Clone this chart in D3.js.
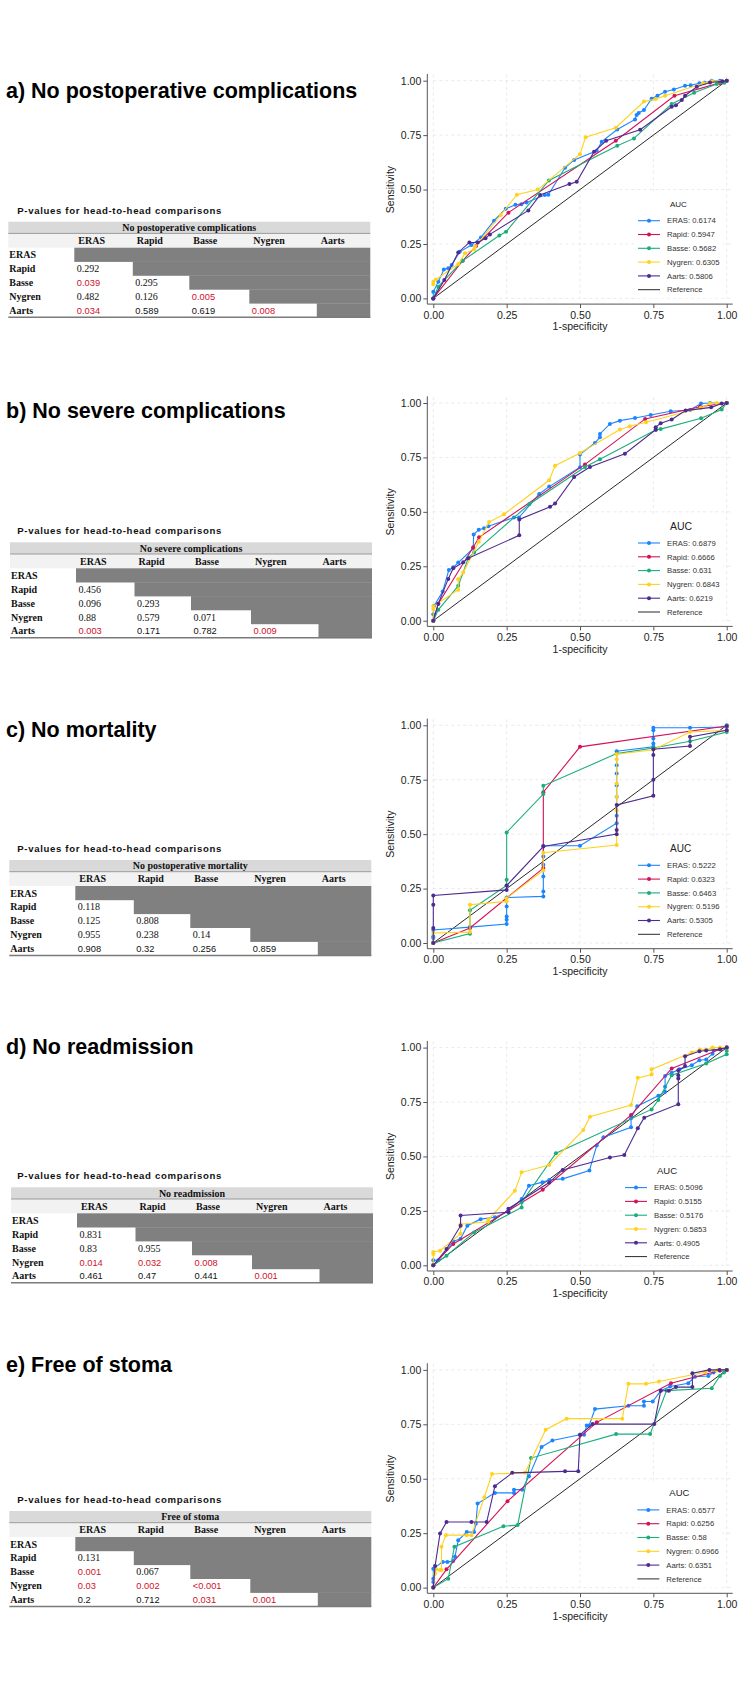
<!DOCTYPE html>
<html>
<head>
<meta charset="utf-8">
<script src="https://cdn.jsdelivr.net/npm/d3@7"></script>
<style>
  body { margin: 0; background: #fff; }
  svg { display: block; }
</style>
</head>
<body>
<svg id="fig" width="750" height="1707"></svg>
<script>
// models, in legend order
const models = ['ERAS', 'Rapid', 'Basse', 'Nygren', 'Aarts']
const modelColors = ['#1a85ff', '#d41159', '#1aae7c', '#ffd21f', '#4f2a8f']

const panelTitles = ['a) No postoperative complications', 'b) No severe complications', 'c) No mortality', 'd) No readmission', 'e) Free of stoma']
const tableTitles = ['No postoperative complications', 'No severe complications', 'No postoperative mortality', 'No readmission', 'Free of stoma']

const axisTicks = [0, 0.25, 0.5, 0.75, 1]

// AUC per model (same order as models)
const aucA = ['0.6174', '0.5947', '0.5682', '0.6305', '0.5806']
const aucB = ['0.6879', '0.6666', '0.631', '0.6843', '0.6219']
const aucC = ['0.5222', '0.6323', '0.6463', '0.5196', '0.5305']
const aucD = ['0.5096', '0.5155', '0.5176', '0.5853', '0.4905']
const aucE = ['0.6577', '0.6256', '0.58', '0.6966', '0.6351']

// lower triangle of p-values, row = Rapid..Aarts, col = ERAS..Nygren
const pvalA = [['0.292'], ['0.039', '0.295'], ['0.482', '0.126', '0.005'], ['0.034', '0.589', '0.619', '0.008']]
const pvalB = [['0.456'], ['0.096', '0.293'], ['0.88', '0.579', '0.071'], ['0.003', '0.171', '0.782', '0.009']]
const pvalC = [['0.118'], ['0.125', '0.808'], ['0.955', '0.238', '0.14'], ['0.908', '0.32', '0.256', '0.859']]
const pvalD = [['0.831'], ['0.83', '0.955'], ['0.014', '0.032', '0.008'], ['0.461', '0.47', '0.441', '0.001']]
const pvalE = [['0.131'], ['0.001', '0.067'], ['0.03', '0.002', '<0.001'], ['0.2', '0.712', '0.031', '0.001']]

// ROC points [1-specificity, sensitivity]
const rocA = {
    ERAS: [[0,0],[0,0.03],[0.017,0.077],[0.036,0.133],[0.051,0.138],[0.0625,0.153],[0.09,0.214],[0.13,0.245],[0.1625,0.28],[0.207,0.357],[0.247,0.412],[0.28,0.43],[0.30,0.433],[0.318,0.441],[0.38,0.475],[0.392,0.476],[0.449,0.60],[0.48,0.636],[0.557,0.678],[0.574,0.72],[0.627,0.776],[0.6875,0.822],[0.693,0.842],[0.70,0.852],[0.718,0.865],[0.744,0.917],[0.764,0.931],[0.79,0.949],[0.82,0.96],[0.858,0.977],[0.877,0.979],[0.907,0.988],[0.924,0.991],[0.949,1],[0.977,1],[1,1]],
    Rapid: [[0,0],[0.1,0.173],[0.145,0.24],[0.256,0.394],[0.622,0.724],[0.822,0.931],[0.977,0.99],[1,1]],
    Basse: [[0,0],[0.017,0.054],[0.1,0.173],[0.225,0.289],[0.248,0.306],[0.394,0.542],[0.627,0.701],[0.684,0.735],[0.8125,0.893],[0.889,0.945],[0.966,0.985],[0.992,0.991],[1,1]],
    Nygren: [[0,0.065],[0,0.077],[0.009,0.087],[0.085,0.158],[0.108,0.207],[0.139,0.225],[0.142,0.237],[0.23,0.383],[0.285,0.476],[0.356,0.5],[0.5,0.662],[0.519,0.74],[0.622,0.784],[0.718,0.904],[0.758,0.916],[0.79,0.931],[0.92,0.988],[0.95,0.998],[1,1]],
    Aarts: [[0,0],[0.0375,0.084],[0.085,0.211],[0.123,0.257],[0.151,0.257],[0.178,0.276],[0.193,0.294],[0.324,0.404],[0.364,0.475],[0.464,0.525],[0.489,0.536],[0.548,0.674],[0.589,0.724],[0.705,0.775],[0.8125,0.88],[0.827,0.887],[0.847,0.911],[0.858,0.931],[0.898,0.972],[0.943,0.992],[0.985,0.997],[1,1]]
}
const rocB = {
    ERAS: [[0,0],[0,0.03],[0.003,0.069],[0.032,0.134],[0.053,0.233],[0.068,0.245],[0.085,0.267],[0.136,0.332],[0.1375,0.396],[0.155,0.418],[0.173,0.425],[0.1875,0.434],[0.275,0.474],[0.292,0.474],[0.361,0.582],[0.395,0.616],[0.5,0.705],[0.5,0.764],[0.551,0.816],[0.568,0.843],[0.568,0.858],[0.602,0.904],[0.636,0.919],[0.6875,0.931],[0.741,0.945],[0.809,0.962],[0.875,0.968],[0.9125,0.998],[0.943,1],[1,1]],
    Rapid: [[0,0],[0.017,0.078],[0.136,0.337],[0.156,0.383],[0.517,0.718],[0.722,0.927],[0.909,0.983],[1,1]],
    Basse: [[0,0],[0.017,0.05],[0.085,0.16],[0.12,0.29],[0.139,0.313],[0.327,0.535],[0.517,0.706],[0.568,0.742],[0.759,0.877],[0.775,0.88],[0.9125,0.93],[0.983,0.97],[1,1]],
    Nygren: [[0,0],[0,0.054],[0,0.066],[0.085,0.142],[0.085,0.19],[0.102,0.221],[0.155,0.363],[0.19,0.453],[0.241,0.489],[0.395,0.645],[0.415,0.712],[0.5,0.77],[0.636,0.878],[0.67,0.893],[0.725,0.912],[0.911,0.977],[0.943,0.998],[0.966,1],[1,1]],
    Aarts: [[0,0],[0.017,0.078],[0.051,0.192],[0.068,0.241],[0.102,0.268],[0.119,0.287],[0.293,0.392],[0.293,0.465],[0.398,0.523],[0.415,0.538],[0.48,0.66],[0.534,0.706],[0.653,0.767],[0.758,0.877],[0.758,0.889],[0.775,0.907],[0.8125,0.924],[0.86,0.965],[0.947,0.98],[0.983,0.998],[1,1]]
}
const rocC = {
    ERAS: [[0,0],[0,0.023],[0,0.03],[0,0.06],[0.125,0.073],[0.25,0.087],[0.25,0.107],[0.25,0.122],[0.25,0.168],[0.25,0.209],[0.375,0.214],[0.375,0.237],[0.375,0.305],[0.375,0.359],[0.375,0.397],[0.375,0.447],[0.5,0.447],[0.625,0.55],[0.625,0.585],[0.625,0.672],[0.625,0.725],[0.625,0.779],[0.625,0.817],[0.625,0.881],[0.75,0.901],[0.75,0.916],[0.75,0.939],[0.75,0.977],[0.75,0.989],[0.875,0.989],[1,0.992],[1,1]],
    Rapid: [[0,0],[0.125,0.069],[0.375,0.344],[0.375,0.693],[0.5,0.901],[1,0.997]],
    Basse: [[0,0],[0.125,0.043],[0.125,0.15],[0.25,0.264],[0.25,0.29],[0.25,0.508],[0.375,0.684],[0.375,0.722],[0.625,0.87],[0.75,0.896],[0.875,0.927],[1,0.969],[1,0.997]],
    Nygren: [[0,0],[0,0.046],[0.125,0.05],[0.125,0.176],[0.25,0.191],[0.25,0.206],[0.375,0.333],[0.375,0.415],[0.625,0.45],[0.625,0.61],[0.625,0.672],[0.625,0.733],[0.625,0.844],[0.625,0.867],[0.75,0.888],[0.875,0.969],[1,0.977],[1,0.997]],
    Aarts: [[0,0],[0,0.069],[0,0.176],[0,0.218],[0.25,0.244],[0.25,0.264],[0.375,0.443],[0.625,0.5],[0.625,0.519],[0.625,0.634],[0.75,0.676],[0.75,0.75],[0.75,0.863],[0.75,0.89],[0.875,0.905],[0.875,0.947],[1,0.977],[1,0.997]]
}
const rocD = {
    ERAS: [[0,0],[0,0.023],[0.017,0.023],[0.068,0.11],[0.093,0.122],[0.116,0.182],[0.161,0.212],[0.21,0.221],[0.256,0.247],[0.301,0.304],[0.326,0.365],[0.372,0.382],[0.395,0.392],[0.441,0.397],[0.532,0.435],[0.557,0.55],[0.58,0.588],[0.674,0.634],[0.674,0.675],[0.695,0.731],[0.767,0.779],[0.79,0.797],[0.79,0.82],[0.79,0.87],[0.8125,0.885],[0.839,0.9],[0.881,0.919],[0.907,0.942],[0.93,0.945],[0.952,0.972],[0.955,0.988],[0.977,0.995],[1,1]],
    Rapid: [[0,0],[0.068,0.098],[0.373,0.347],[0.674,0.69],[0.8125,0.904],[0.977,0.992],[1,1]],
    Basse: [[0,0],[0.045,0.044],[0.139,0.151],[0.301,0.266],[0.301,0.289],[0.418,0.515],[0.744,0.716],[0.767,0.759],[0.8125,0.873],[0.93,0.927],[1,0.969],[1,0.985],[1,1]],
    Nygren: [[0,0],[0,0.052],[0,0.061],[0.023,0.067],[0.093,0.145],[0.093,0.189],[0.1875,0.2],[0.1875,0.209],[0.278,0.342],[0.301,0.427],[0.395,0.461],[0.511,0.621],[0.534,0.682],[0.674,0.736],[0.697,0.861],[0.744,0.876],[0.744,0.9],[0.881,0.977],[0.909,0.991],[0.93,0.991],[0.952,1],[0.977,1],[1,1]],
    Aarts: [[0,0],[0.045,0.075],[0.093,0.182],[0.093,0.229],[0.256,0.244],[0.256,0.26],[0.395,0.38],[0.441,0.438],[0.602,0.495],[0.651,0.507],[0.697,0.629],[0.719,0.678],[0.835,0.74],[0.835,0.858],[0.835,0.873],[0.835,0.896],[0.858,0.915],[0.858,0.96],[0.907,0.983],[0.93,0.987],[0.977,0.992],[1,1]]
}
const rocE = {
    ERAS: [[0,0],[0,0.026],[0,0.041],[0,0.087],[0.032,0.118],[0.048,0.118],[0.068,0.122],[0.074,0.142],[0.085,0.217],[0.114,0.255],[0.139,0.255],[0.145,0.293],[0.151,0.386],[0.21,0.435],[0.275,0.435],[0.275,0.45],[0.303,0.45],[0.326,0.511],[0.369,0.646],[0.406,0.676],[0.5,0.702],[0.514,0.702],[0.523,0.745],[0.531,0.745],[0.551,0.82],[0.665,0.835],[0.718,0.835],[0.718,0.855],[0.748,0.855],[0.775,0.904],[0.807,0.924],[0.869,0.939],[0.892,0.969],[0.9375,0.972],[0.955,0.988],[0.977,0.997],[1,1]],
    Rapid: [[0,0],[0.045,0.084],[0.253,0.397],[0.557,0.759],[0.81,0.939],[0.977,0.997],[1,1]],
    Basse: [[0,0],[0.051,0.041],[0.072,0.188],[0.239,0.282],[0.2875,0.287],[0.333,0.595],[0.623,0.705],[0.739,0.705],[0.795,0.905],[0.949,0.916],[0.977,0.972],[0.991,0.988],[1,1]],
    Nygren: [[0,0],[0.006,0.064],[0.011,0.084],[0.023,0.081],[0.028,0.081],[0.028,0.188],[0.043,0.241],[0.114,0.241],[0.13,0.241],[0.174,0.415],[0.2,0.522],[0.3125,0.527],[0.383,0.725],[0.4545,0.776],[0.644,0.776],[0.665,0.936],[0.725,0.936],[0.769,0.947],[0.926,0.989],[0.966,0.997],[1,1]],
    Aarts: [[0,0],[0.006,0.099],[0.023,0.249],[0.045,0.301],[0.13,0.301],[0.182,0.301],[0.21,0.466],[0.269,0.527],[0.449,0.534],[0.494,0.534],[0.5,0.702],[0.543,0.751],[0.753,0.751],[0.775,0.904],[0.803,0.904],[0.827,0.921],[0.883,0.921],[0.883,0.985],[0.941,1],[0.975,1],[1,1]]
}

// ---------- layout (not data) ----------
const titleBase = [98.4, 417.7, 736.7, 1054.3, 1372.3]
const tableTop = [221.7, 542.3, 860, 1187.3, 1511]
const tableLeft = [8.3, 10, 9.3, 11, 9.3]
const legendX = [638, 638, 638, 625, 637.3]
const legendTitleSize = [8, 10.5, 10, 9.5, 9.5]

const plotTop0 = 80.7, plotStep = 322.3, plotH = 217.7
const plotL = 433.3, plotR = 726.7

const sansFont = "'Liberation Sans', Arial, Helvetica, sans-serif"
const serifFont = "'Liberation Serif', 'Times New Roman', serif"
const redColor = '#d0112b'

const panels = [
    {auc: aucA, pvals: pvalA, roc: rocA},
    {auc: aucB, pvals: pvalB, roc: rocB},
    {auc: aucC, pvals: pvalC, roc: rocC},
    {auc: aucD, pvals: pvalD, roc: rocD},
    {auc: aucE, pvals: pvalE, roc: rocE}
]

const isSignificant = s => s.startsWith('<') || +s < 0.05

let svg = d3.select('#fig')
svg.append('rect').attr('width', 750).attr('height', 1707).attr('fill', '#fff')

const drawTable = (g, i) => {
    let left = tableLeft[i], top = tableTop[i]
    let W = 362, titleH = 11.7, headH = 14.3, rowH = 13.9
    let colX = [66, 124.5, 181, 241, 308.5]
    let bodyTop = top + titleH + headH

    g.append('text')
        .attr('x', 17.3).attr('y', top - 8)
        .attr('font-family', sansFont).attr('font-weight', 'bold')
        .attr('font-size', 9.6).attr('fill', '#111')
        .attr('textLength', 204).attr('lengthAdjust', 'spacing')
        .text('P-values for head-to-head comparisons')

    g.append('rect').attr('x', left).attr('y', top).attr('width', W).attr('height', titleH).attr('fill', '#d9d9d9')
    g.append('rect').attr('x', left).attr('y', top + titleH).attr('width', W).attr('height', headH).attr('fill', '#f2f2f2')
    g.append('line').attr('x1', left).attr('x2', left + W).attr('y1', top + titleH).attr('y2', top + titleH)
        .attr('stroke', '#9a9a9a').attr('stroke-width', 1)

    // staircase of grey cells
    g.selectAll('rect.dark').data(models).enter().append('rect')
        .attr('class', 'dark')
        .attr('x', (d, r) => left + colX[r])
        .attr('y', (d, r) => bodyTop + r * rowH)
        .attr('width', (d, r) => W - colX[r])
        .attr('height', rowH + 0.3)
        .attr('fill', '#808080')

    g.append('line').attr('x1', left).attr('x2', left + W)
        .attr('y1', bodyTop + 5 * rowH).attr('y2', bodyTop + 5 * rowH)
        .attr('stroke', '#7a7a7a').attr('stroke-width', 1.4)

    g.append('text')
        .attr('x', left + W / 2).attr('y', top + titleH / 2 + 3.5)
        .attr('text-anchor', 'middle')
        .attr('font-family', serifFont).attr('font-weight', 'bold').attr('font-size', 10).attr('fill', '#111')
        .text(tableTitles[i])

    g.selectAll('text.colhead').data(models).enter().append('text')
        .attr('class', 'colhead')
        .attr('x', (d, c) => left + colX[c] + 4)
        .attr('y', top + titleH + headH / 2 + 3.6)
        .attr('font-family', serifFont).attr('font-weight', 'bold').attr('font-size', 10).attr('fill', '#111')
        .text(d => d)

    g.selectAll('text.rowhead').data(models).enter().append('text')
        .attr('class', 'rowhead')
        .attr('x', left + 1)
        .attr('y', (d, r) => bodyTop + r * rowH + rowH / 2 + 3.6)
        .attr('font-family', serifFont).attr('font-weight', 'bold').attr('font-size', 10).attr('fill', '#111')
        .text(d => d)

    let cells = []
    panels[i].pvals.forEach((row, r) => row.forEach((v, c) => cells.push({r: r + 1, c, v})))

    g.selectAll('text.pval').data(cells).enter().append('text')
        .attr('class', 'pval')
        .attr('x', d => left + colX[d.c] + 2.5)
        .attr('y', d => bodyTop + d.r * rowH + rowH / 2 + 3.6)
        .attr('font-family', d => (isSignificant(d.v) || d.r === 4) ? sansFont : serifFont)
        .attr('font-size', d => (isSignificant(d.v) || d.r === 4) ? 9.3 : 10)
        .attr('fill', d => isSignificant(d.v) ? redColor : '#111')
        .text(d => d.v)
}

const drawRoc = (g, i) => {
    let top = plotTop0 + plotStep * i
    let bottom = top + plotH
    let panel = panels[i]

    let x = d3.scaleLinear().domain([0, 1]).range([plotL, plotR])
    let y = d3.scaleLinear().domain([0, 1]).range([bottom, top])

    // grid
    g.selectAll('line.vgrid').data(axisTicks).enter().append('line')
        .attr('x1', d => x(d)).attr('x2', d => x(d))
        .attr('y1', top - 6).attr('y2', bottom)
        .attr('stroke', '#e4e4e4').attr('stroke-width', 0.8).attr('stroke-dasharray', '3,3')
    g.selectAll('line.hgrid').data(axisTicks).enter().append('line')
        .attr('x1', x(0)).attr('x2', plotR + 6)
        .attr('y1', d => y(d)).attr('y2', d => y(d))
        .attr('stroke', '#e4e4e4').attr('stroke-width', 0.8).attr('stroke-dasharray', '3,3')

    // axes
    let yAxis = g.append('g')
        .attr('transform', 'translate(' + (plotL - 6) + ',0)')
        .call(d3.axisLeft(y).tickValues(axisTicks).tickFormat(d3.format('.2f')).tickSize(4).tickPadding(2))
    let xAxis = g.append('g')
        .attr('transform', 'translate(0,' + (bottom + 5.7) + ')')
        .call(d3.axisBottom(x).tickValues(axisTicks).tickFormat(d3.format('.2f')).tickSize(4).tickPadding(3))

    for (let ax of [yAxis, xAxis]) {
        ax.select('.domain').remove()
        ax.selectAll('line').attr('stroke', '#555')
        ax.selectAll('text').attr('font-family', sansFont).attr('font-size', 10.5).attr('fill', '#222')
    }
    g.append('line').attr('x1', plotL - 6).attr('x2', plotL - 6).attr('y1', top - 6.7).attr('y2', bottom + 5.7)
        .attr('stroke', '#555').attr('stroke-width', 1)
    g.append('line').attr('x1', plotL - 6).attr('x2', plotR + 6).attr('y1', bottom + 5.7).attr('y2', bottom + 5.7)
        .attr('stroke', '#555').attr('stroke-width', 1)

    g.append('text')
        .attr('x', (plotL + plotR) / 2).attr('y', bottom + 32)
        .attr('text-anchor', 'middle')
        .attr('font-family', sansFont).attr('font-size', 10.5).attr('fill', '#222')
        .text('1-specificity')
    g.append('text')
        .attr('transform', 'translate(394,' + ((top + bottom) / 2) + ') rotate(-90)')
        .attr('text-anchor', 'middle')
        .attr('font-family', sansFont).attr('font-size', 10.5).attr('fill', '#222')
        .text('Sensitivity')

    // legend background hides the grid
    let lx = legendX[i]
    g.append('rect')
        .attr('x', lx - 3).attr('y', top + 114)
        .attr('width', 88).attr('height', plotH - 114)
        .attr('fill', '#fff')

    // reference diagonal
    g.append('line')
        .attr('x1', x(0)).attr('y1', y(0)).attr('x2', x(1)).attr('y2', y(1))
        .attr('stroke', '#111').attr('stroke-width', 0.9)

    let line = d3.line().x(d => x(d[0])).y(d => y(d[1]))

    models.forEach((m, k) => {
        let pts = panel.roc[m]
        g.append('path')
            .datum(pts)
            .attr('d', line)
            .attr('fill', 'none')
            .attr('stroke', modelColors[k])
            .attr('stroke-width', 1.1)
        g.selectAll('circle.m' + k).data(pts).enter().append('circle')
            .attr('class', 'm' + k)
            .attr('cx', d => x(d[0])).attr('cy', d => y(d[1]))
            .attr('r', 2)
            .attr('fill', modelColors[k])
    })

    // legend
    g.append('text')
        .attr('x', lx + 32).attr('y', top + 126.5)
        .attr('font-family', sansFont).attr('font-size', legendTitleSize[i]).attr('fill', '#222')
        .text('AUC')

    let entries = models.map((m, k) => ({label: m + ': ' + panel.auc[k], color: modelColors[k], marker: true}))
    entries.push({label: 'Reference', color: '#111', marker: false})

    let le = g.selectAll('g.leg').data(entries).enter().append('g')
        .attr('class', 'leg')
        .attr('transform', (d, k) => 'translate(' + lx + ',' + (top + 140 + k * 13.8) + ')')
    le.append('line').attr('x1', 0).attr('x2', 22).attr('y1', 0).attr('y2', 0)
        .attr('stroke', d => d.color).attr('stroke-width', d => d.marker ? 1.1 : 0.9)
    le.filter(d => d.marker).append('circle').attr('cx', 11).attr('cy', 0).attr('r', 2).attr('fill', d => d.color)
    le.append('text').attr('x', 29).attr('y', 2.7)
        .attr('font-family', sansFont).attr('font-size', 7.7).attr('fill', '#333')
        .text(d => d.label)
}

panelTitles.forEach((t, i) => {
    let g = svg.append('g').attr('class', 'panel')
    g.append('text')
        .attr('x', 6).attr('y', titleBase[i])
        .attr('font-family', sansFont).attr('font-weight', 'bold')
        .attr('font-size', 21.5).attr('fill', '#000')
        .text(t)
    drawTable(g, i)
    drawRoc(g, i)
})
</script>
</body>
</html>
